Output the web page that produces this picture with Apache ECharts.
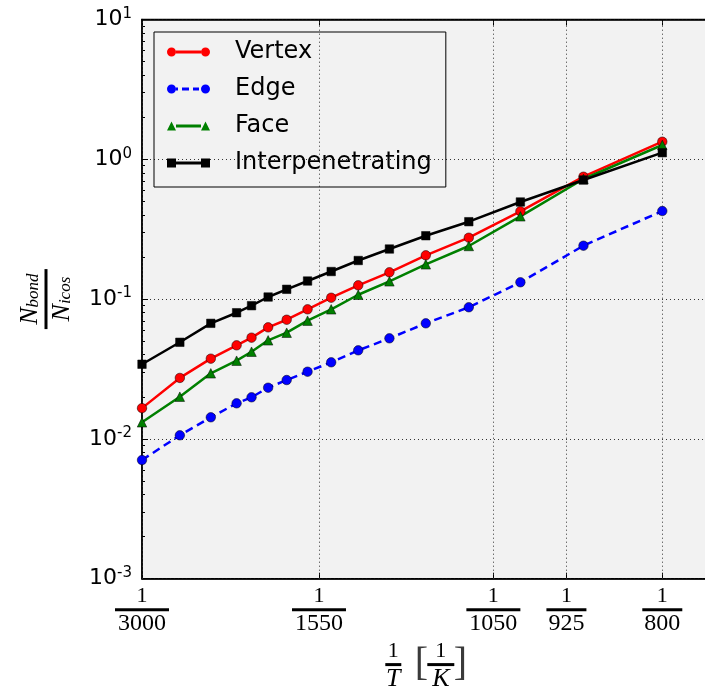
<!DOCTYPE html>
<html><head><meta charset="utf-8">
<script src="https://cdn.jsdelivr.net/npm/echarts@6/dist/echarts.min.js"></script>
<style>html,body{margin:0;padding:0;background:#fff;}#c{width:705px;height:691px;}</style>
</head><body><div id="c"></div>
<script>
// Temperatures (K) of the sampled points; x = 1/T
const temperatures = [3000, 2500, 2200, 2000, 1900, 1800, 1700, 1600, 1500, 1400, 1300, 1200, 1100, 1000, 900, 800];
const vertex = [0.0166, 0.0273, 0.0375, 0.0467, 0.0530, 0.0628, 0.0712, 0.0845, 0.1023, 0.1255, 0.1555, 0.2057, 0.2749, 0.4246, 0.751, 1.336];
const edge = [0.00706, 0.01061, 0.01427, 0.01797, 0.01984, 0.02324, 0.02637, 0.03025, 0.0353, 0.0430, 0.0524, 0.0671, 0.0874, 0.1319, 0.241, 0.4267];
const face = [0.01314, 0.02004, 0.02945, 0.03626, 0.04204, 0.0507, 0.0575, 0.0701, 0.0845, 0.1074, 0.134, 0.1773, 0.2398, 0.391, 0.723, 1.266];
const interpenetrating = [0.0342, 0.0491, 0.0671, 0.0799, 0.0897, 0.1035, 0.1175, 0.1347, 0.1575, 0.1888, 0.2282, 0.284, 0.3578, 0.495, 0.711, 1.115];
const xTickTemps = [3000, 1550, 1050, 925, 800];
const xMinTemp = 3000, xMaxTemp = 750;
const yMin = 0.001, yMax = 10;
const yMinorTicks = [];
[0.001, 0.01, 0.1, 1].forEach(function (d) { for (let k = 2; k <= 9; k++) yMinorTicks.push(d * k); });

const xTickValues = xTickTemps.map(function (t) { return 1 / t; });
function pts(vals) { return temperatures.map(function (t, i) { return [1 / t, vals[i]]; }); }

const serif = 'Liberation Serif';
const sans = 'DejaVu Sans';

const icons = {
  Vertex: 'path://M0,5a4.5,4.5 0 1,0 9,0a4.5,4.5 0 1,0 -9,0ZM34,5a4.5,4.5 0 1,0 9,0a4.5,4.5 0 1,0 -9,0ZM9,3.6L34,3.6L34,6.4L9,6.4Z',
  Edge: 'path://M0,5a4.5,4.5 0 1,0 9,0a4.5,4.5 0 1,0 -9,0ZM34,5a4.5,4.5 0 1,0 9,0a4.5,4.5 0 1,0 -9,0ZM9,3.6L11,3.6L11,6.4L9,6.4ZM15,3.6L22,3.6L22,6.4L15,6.4ZM26,3.6L32,3.6L32,6.4L26,6.4Z',
  Face: 'path://M0,9.5L4.5,0.5L9,9.5ZM34,9.5L38.5,0.5L43,9.5ZM9,3.6L34,3.6L34,6.4L9,6.4Z',
  Interpenetrating: 'path://M0,0.5L9,0.5L9,9.5L0,9.5ZM34,0.5L43,0.5L43,9.5L34,9.5ZM9,3.6L34,3.6L34,6.4L9,6.4Z'
};

const chart = echarts.init(document.getElementById('c'), null, { renderer: 'canvas' });
const gridLine = { type: [1, 3], color: '#333', width: 1 };

function mkSeries(name, vals, color, symbol, size, dashed) {
  return {
    name: name, type: 'line', data: pts(vals), symbol: symbol, symbolSize: size,
    lineStyle: { color: color, width: 2.5, type: dashed ? [8, 5] : 'solid' },
    itemStyle: { color: color, borderColor: '#000', borderWidth: 0.5 },
    emphasis: { disabled: true }, animation: false, z: 3
  };
}

const series = [
  mkSeries('Vertex', vertex, '#ff0000', 'circle', 9.5, false),
  mkSeries('Edge', edge, '#0000ff', 'circle', 9.5, true),
  mkSeries('Face', face, '#008000', 'triangle', 9.5, false),
  mkSeries('Interpenetrating', interpenetrating, '#000000', 'rect', 8.5, false)
];
series[0].markLine = {
  silent: true, symbol: ['none', 'none'], label: { show: false }, z: 2, animation: false,
  lineStyle: gridLine, emphasis: { disabled: true },
  data: xTickValues.map(function (v) { return [{ coord: [v, yMin] }, { coord: [v, yMax] }]; })
};

const option = {
  backgroundColor: '#fff',
  animation: false,
  grid: {
    left: 142, top: 19.5, width: 567.6, height: 559.2, show: true,
    backgroundColor: '#f2f2f2', borderColor: '#000', borderWidth: 1.5,
    containLabel: false, outerBoundsMode: 'none'
  },
  legend: {
    orient: 'vertical', left: 154, top: 32, padding: [6, 14, 10, 13], itemGap: 9,
    itemWidth: 43, itemHeight: 9, borderColor: '#000', borderWidth: 1, backgroundColor: 'transparent',
    itemStyle: { borderWidth: 0 },
    textStyle: { fontFamily: sans, fontSize: 24, color: '#000', lineHeight: 28, padding: [0, 0, 0, 20] },
    data: Object.keys(icons).map(function (n) { return { name: n, icon: icons[n] }; })
  },
  xAxis: [{
    type: 'value', position: 'bottom', min: 1 / xMinTemp, max: 1 / xMaxTemp,
    axisLine: { show: true, lineStyle: { color: '#000', width: 1.5 } },
    axisTick: { show: true, inside: true, length: 6, customValues: xTickValues, lineStyle: { color: '#000' } },
    splitLine: { show: false },
    axisLabel: {
      customValues: xTickValues, margin: 8, color: '#000',
      formatter: function (v) {
        const s = String(Math.round(1 / v));
        return '{n|1}\n{' + (s.length > 3 ? 'b4' : 'b3') + '| }\n{d|' + s + '}';
      },
      rich: {
        n: { fontFamily: serif, fontSize: 22, lineHeight: 20, align: 'center', color: '#000' },
        b4: { width: 54, height: 3, lineHeight: 6, fontSize: 2, backgroundColor: '#000', align: 'center' },
        b3: { width: 40, height: 3, lineHeight: 6, fontSize: 2, backgroundColor: '#000', align: 'center' },
        d: { fontFamily: serif, fontSize: 24, lineHeight: 22, align: 'center', color: '#000' }
      }
    },
    name: '{a|1}{g| }{c| }{dn|1}{e| }\n{ab| }{g| }{cb|[}{db| }{eb|]}\n{at|T}{g| }{c| }{dt|K}{e| }',
    nameLocation: 'middle', nameGap: 58,
    nameTextStyle: {
      color: '#000',
      rich: {
        a: { width: 16, fontFamily: serif, fontSize: 22, lineHeight: 20, align: 'center', color: '#000' },
        ab: { width: 16, height: 3, lineHeight: 6, fontSize: 2, backgroundColor: '#000', align: 'center' },
        at: { width: 16, fontFamily: serif, fontStyle: 'italic', fontSize: 26, lineHeight: 24, align: 'center', color: '#000' },
        g: { width: 14, fontSize: 2, align: 'center' },
        c: { width: 12, fontSize: 2, align: 'center' },
        cb: { width: 12, fontFamily: serif, fontSize: 40, lineHeight: 6, align: 'center', color: '#3a3a3a' },
        dn: { width: 27, fontFamily: serif, fontSize: 22, lineHeight: 20, align: 'center', color: '#000' },
        db: { width: 27, height: 3, lineHeight: 6, fontSize: 2, backgroundColor: '#000', align: 'center' },
        dt: { width: 27, fontFamily: serif, fontStyle: 'italic', fontSize: 26, lineHeight: 24, align: 'center', color: '#000' },
        e: { width: 12, fontSize: 2, align: 'center' },
        eb: { width: 12, fontFamily: serif, fontSize: 40, lineHeight: 6, align: 'center', color: '#3a3a3a' }
      }
    }
  }, {
    type: 'value', position: 'top', min: 1 / xMinTemp, max: 1 / xMaxTemp,
    axisLine: { show: true, lineStyle: { color: '#000', width: 1.5 } },
    axisTick: { show: true, inside: true, length: 6, customValues: xTickValues, lineStyle: { color: '#000' } },
    axisLabel: { show: false }, splitLine: { show: false }
  }],
  yAxis: [{
    type: 'log', logBase: 10, min: yMin, max: yMax, position: 'left',
    axisLine: { show: true, lineStyle: { color: '#000', width: 1.5 } },
    axisTick: { show: true, inside: true, length: 6, lineStyle: { color: '#000' } },
    splitLine: { show: true, lineStyle: gridLine },
    axisLabel: {
      margin: 10, color: '#000',
      formatter: function (v) { return '{b|10}{s|' + Math.round(Math.log10(v)) + '}'; },
      rich: {
        b: { fontFamily: sans, fontSize: 22, lineHeight: 26, color: '#000' },
        s: { fontFamily: sans, fontSize: 15, lineHeight: 14, verticalAlign: 'top', color: '#000' }
      }
    },
    name: '{N|N}{sb|bond}\n{bar| }\n{N|N}{sb|icos}',
    nameLocation: 'middle', nameRotate: 90, nameGap: 68,
    nameTextStyle: {
      color: '#000',
      rich: {
        N: { fontFamily: serif, fontStyle: 'italic', fontSize: 26, lineHeight: 24, align: 'center', color: '#000' },
        sb: { fontFamily: serif, fontStyle: 'italic', fontSize: 17, lineHeight: 10, verticalAlign: 'bottom', align: 'center', color: '#000' },
        bar: { width: 60, height: 3, lineHeight: 8, fontSize: 2, backgroundColor: '#000', align: 'center' }
      }
    }
  }, {
    type: 'log', logBase: 10, min: yMin, max: yMax, position: 'left',
    axisLine: { show: false },
    axisTick: { show: true, inside: true, length: 3, customValues: yMinorTicks, lineStyle: { color: '#000' } },
    axisLabel: { show: false }, splitLine: { show: false }
  }],
  series: series
};
chart.setOption(option);
</script>
</body></html>
